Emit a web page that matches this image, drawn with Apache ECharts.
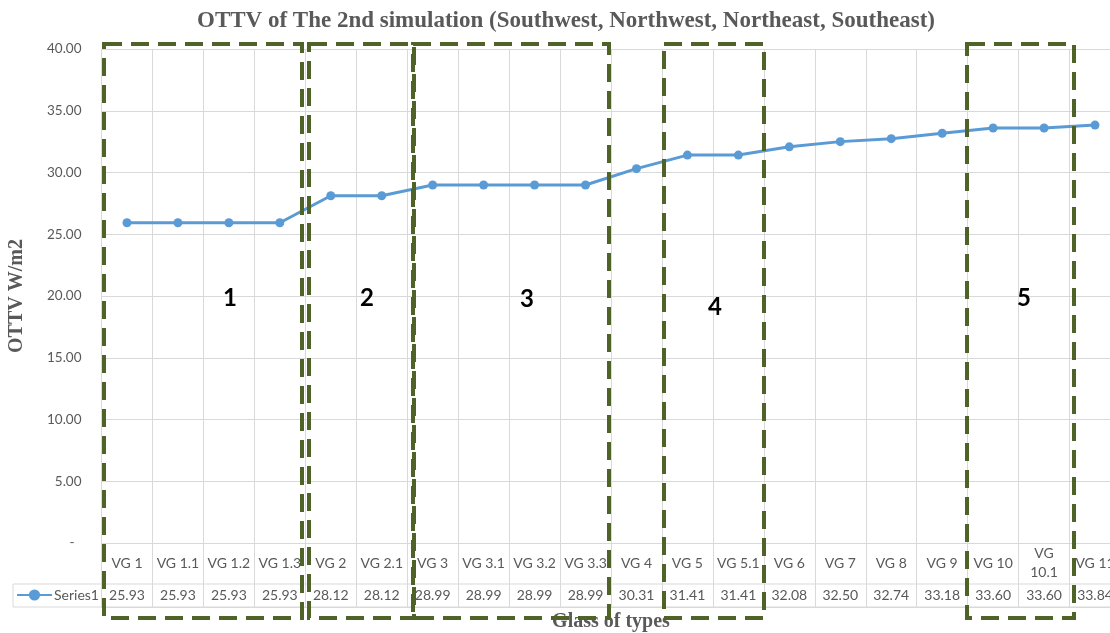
<!DOCTYPE html>
<html lang="en">
<head>
	<meta charset="UTF-8">
	<title>OTTV of The 2nd simulation</title>
	<script src="https://cdn.jsdelivr.net/npm/echarts@6/dist/echarts.min.js"></script>
	<style>
		* {
			margin: 0;
			padding: 0;
		}

		#container {
			width: 1110px;
			height: 633px;
			background: #fff;
		}
	</style>
</head>
<body>
<div id="container"></div>
<script type="text/javascript">
	// glass types along the x axis
	var categories = ['VG 1', 'VG 1.1', 'VG 1.2', 'VG 1.3', 'VG 2', 'VG 2.1', 'VG 3', 'VG 3.1', 'VG 3.2', 'VG 3.3',
		'VG 4', 'VG 5', 'VG 5.1', 'VG 6', 'VG 7', 'VG 8', 'VG 9', 'VG 10', 'VG 10.1', 'VG 11'];
	// OTTV W/m2
	var values = [25.93, 25.93, 25.93, 25.93, 28.12, 28.12, 28.99, 28.99, 28.99, 28.99,
		30.31, 31.41, 31.41, 32.08, 32.50, 32.74, 33.18, 33.60, 33.60, 33.84];
	var yTicks = [0, 5, 10, 15, 20, 25, 30, 35, 40];

	// hand drawn group boxes (annotation overlay)
	var groupBoxes = [
		{label: '1', x: 104, w: 198, tx: 230, ty: 298},
		{label: '2', x: 309, w: 105, tx: 367, ty: 298},
		{label: '3', x: 413, w: 196, tx: 527, ty: 299},
		{label: '4', x: 664, w: 100, tx: 715, ty: 307},
		{label: '5', x: 967, w: 107, tx: 1024, ty: 298}
	];

	var gray = '#595959', gridCol = '#D9D9D9', lineCol = '#5B9BD5', boxCol = '#4F6228';
	var sans = 'Lato, "Liberation Sans", sans-serif';
	var serif = '"Liberation Serif", "DejaVu Serif", serif';

	var myChart = echarts.init(document.getElementById('container'));

	var gLeft = 101.5, gWidth = 1019; // plot runs past the right edge, as in the original

	var graphics = [
		// data table borders
		{
			type: 'polyline', z: 5, silent: true,
			shape: {points: [[1110, 584], [13, 584], [13, 607], [1110, 607]]},
			style: {stroke: gridCol, lineWidth: 1, fill: null}
		}
	];
	groupBoxes.forEach(function (b) {
		graphics.push({
			type: 'rect', z: 100, silent: true,
			shape: {x: b.x, y: 44, width: b.w, height: 574},
			style: {fill: null, stroke: boxCol, lineWidth: 4, lineDash: [18, 9]}
		});
		graphics.push({
			type: 'text', z: 100, silent: true,
			x: b.tx, y: b.ty,
			style: {text: b.label, fill: '#000', font: 'bold 24px ' + sans, align: 'center', verticalAlign: 'middle'}
		});
	});

	var option = {
		backgroundColor: '#fff',
		animation: false,
		title: {
			text: 'OTTV of The 2nd simulation (Southwest, Northwest, Northeast, Southeast)',
			left: 192,
			top: 5,
			textStyle: {fontFamily: serif, fontWeight: 'bold', fontSize: 23, color: gray}
		},
		legend: {
			data: ['Series1'],
			left: 16,
			top: 588,
			padding: 0,
			itemWidth: 35,
			itemHeight: 14,
			textStyle: {color: gray, fontFamily: sans, fontSize: 14, padding: [0, 0, 0, -3]}
		},
		grid: [
			{left: gLeft, top: 49, width: gWidth, height: 494, outerBoundsMode: 'none', containLabel: false},
			{left: gLeft, top: 543, width: gWidth, height: 64, outerBoundsMode: 'none', containLabel: false}
		],
		xAxis: [
			{
				type: 'category', gridIndex: 0, data: categories,
				axisLine: {show: true, lineStyle: {color: gridCol}},
				axisTick: {show: false},
				splitLine: {show: true, lineStyle: {color: gridCol}},
				axisLabel: {
					interval: 0, margin: 20, verticalAlign: 'middle',
					color: gray, fontFamily: sans, fontSize: 14, lineHeight: 19,
					formatter: function (v) {
						return v.length > 6 ? v.replace(' ', '\n') : v;
					}
				}
			},
			{
				// data table row under the chart
				type: 'category', gridIndex: 1, data: categories,
				axisLine: {show: true, lineStyle: {color: gridCol}},
				axisTick: {show: false},
				splitLine: {show: true, lineStyle: {color: gridCol}},
				axisLabel: {
					interval: 0, inside: true, margin: 12, verticalAlign: 'middle',
					color: gray, fontFamily: sans, fontSize: 14,
					formatter: function (v, i) {
						return values[i].toFixed(2);
					}
				},
				name: 'Glass of types',
				nameLocation: 'middle',
				nameGap: 5,
				nameTextStyle: {fontFamily: serif, fontWeight: 'bold', fontSize: 20, color: gray}
			}
		],
		yAxis: [
			{
				type: 'value', gridIndex: 0,
				min: yTicks[0], max: yTicks[yTicks.length - 1], interval: yTicks[1] - yTicks[0],
				axisLine: {show: false},
				axisTick: {show: false},
				splitLine: {show: true, lineStyle: {color: gridCol}},
				axisLabel: {
					margin: 20, color: gray, fontFamily: sans, fontSize: 13.5,
					formatter: function (v) {
						return v === 0 ? '-  ' : v.toFixed(2);
					}
				},
				name: 'OTTV W/m2',
				nameLocation: 'middle',
				nameGap: 75,
				nameTextStyle: {fontFamily: serif, fontWeight: 'bold', fontSize: 20, color: gray}
			},
			{type: 'value', gridIndex: 1, show: false, min: 0, max: 1}
		],
		series: [
			{
				name: 'Series1',
				type: 'line',
				xAxisIndex: 0,
				yAxisIndex: 0,
				data: values,
				symbol: 'circle',
				symbolSize: 9,
				lineStyle: {color: lineCol, width: 3},
				itemStyle: {color: lineCol}
			}
		],
		graphic: graphics
	};

	myChart.setOption(option);
</script>
</body>
</html>
